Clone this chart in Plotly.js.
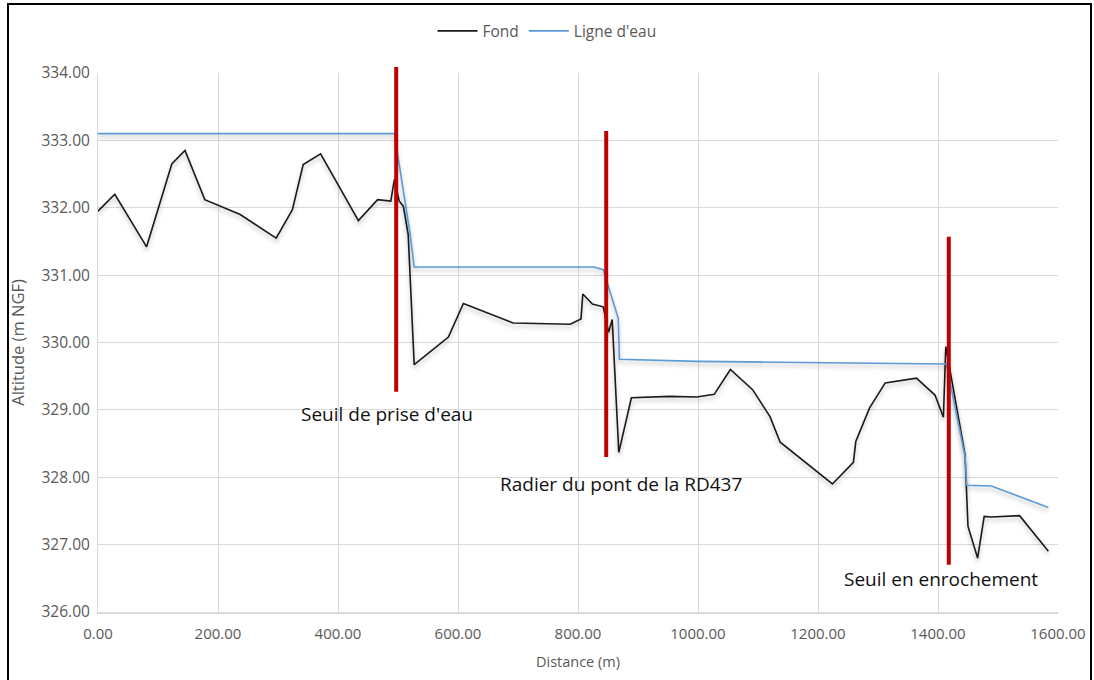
<!DOCTYPE html>
<html><head><meta charset="utf-8">
<script src="https://cdn.plot.ly/plotly-3.0.1.min.js"></script>
<style>
html,body{margin:0;padding:0;background:#fff;overflow:hidden}
#chart{width:1094px;height:680px}
#frame{position:absolute;left:7px;top:3px;width:1081px;height:720px;border:2px solid #000;pointer-events:none}
.scatterlayer .trace path.js-line{filter:drop-shadow(0px 3px 2px rgba(0,0,0,0.28))}
</style></head>
<body><div id="chart"></div><div id="frame"></div>
<script>
// Fond (river bed)
const fondDist = [0,28,81,123,145,178,237,297,324,342,371,434,466,488,494,502,509,517,527,584,609,692,787,805,808,824,842,851,857,868,889,953,998,1027,1054,1091,1120,1137,1224,1259,1263,1286,1312,1364,1395,1409,1413,1445,1450,1466,1477,1489,1536,1584];
const fondAlt  = [331.95,332.20,331.42,332.65,332.85,332.12,331.90,331.55,331.97,332.64,332.80,331.81,332.12,332.10,332.42,332.10,332.02,331.60,329.67,330.08,330.58,330.29,330.27,330.35,330.72,330.57,330.53,330.15,330.34,328.37,329.18,329.20,329.19,329.23,329.60,329.30,328.90,328.52,327.90,328.22,328.53,329.03,329.40,329.47,329.22,328.89,329.94,328.34,327.27,326.80,327.42,327.41,327.43,326.90];
// Ligne d'eau (water line)
const eauDist = [0,494,520,527,826,842,867,869,998,1203,1414,1445,1448,1489,1584];
const eauAlt  = [333.10,333.10,331.62,331.12,331.12,331.08,330.36,329.75,329.72,329.70,329.68,328.31,327.88,327.87,327.55];
// Structures (red markers) and their labels
const structX     = [497, 847, 1418];
const structTop   = [334.09, 333.14, 331.57];
const structBot   = [329.27, 328.30, 326.70];
const structNames = ["Seuil de prise d'eau", "Radier du pont de la RD437", "Seuil en enrochement"];
const labelX      = [482, 872, 1405];
const labelY      = [328.94, 327.90, 326.49];

const yRange = [326, 334];
const font = "Open Sans, Noto Sans, sans-serif";
const grey = "#595959";
const toPaper = v => (v - yRange[0]) / (yRange[1] - yRange[0]);

const traces = [
  {x: fondDist, y: fondAlt, name: "Fond", mode: "lines", type: "scatter",
   line: {color: "#1a1a1a", width: 1.6}},
  {x: eauDist, y: eauAlt, name: "Ligne d'eau", mode: "lines", type: "scatter",
   line: {color: "#5b9bd5", width: 1.6}}
];

const shapes = structX.map((x, i) => ({
  type: "line", xref: "x", yref: "paper", x0: x, x1: x,
  y0: toPaper(structBot[i]), y1: toPaper(structTop[i]),
  line: {color: "#c00000", width: 4}, layer: "above"
}));
const annotations = structNames.map((t, i) => ({
  text: t, x: labelX[i], y: labelY[i], xref: "x", yref: "y", showarrow: false,
  font: {family: font, size: 19, color: "#111"}
}));

const layout = {
  width: 1094, height: 680,
  margin: {l: 98, r: 36, t: 73, b: 68, autoexpand: false},
  paper_bgcolor: "#fff", plot_bgcolor: "#fff",
  font: {family: font, color: grey, size: 15},
  showlegend: true,
  legend: {orientation: "h", x: 0.5, xanchor: "center", xref: "container",
           y: 0.954, yanchor: "middle", yref: "container", itemwidth: 40,
           font: {family: font, size: 15.5, color: grey}},
  xaxis: {range: [0, 1600], dtick: 200, tick0: 0, tickformat: ".2f",
          showgrid: true, gridcolor: "#d9d9d9", gridwidth: 1,
          showline: true, linecolor: "#d9d9d9", linewidth: 1.5, mirror: false,
          zeroline: false, ticks: "", ticklen: 0, ticklabelstandoff: 7,
          tickfont: {family: font, size: 15, color: grey},
          title: {text: "Distance (m)", font: {family: font, size: 14.5, color: grey}, standoff: 15}},
  yaxis: {range: yRange, dtick: 1, tick0: 326, tickformat: ".2f",
          showgrid: true, gridcolor: "#d9d9d9", gridwidth: 1,
          showline: true, linecolor: "#d9d9d9", linewidth: 1,
          zeroline: false, ticks: "", ticklen: 0, ticklabelstandoff: 4,
          tickfont: {family: font, size: 15.5, color: grey},
          title: {text: "Altitude (m NGF)", font: {family: font, size: 16.5, color: grey}, standoff: 12}},
  shapes: shapes,
  annotations: annotations
};

Plotly.newPlot("chart", traces, layout, {displayModeBar: false, staticPlot: true});
</script></body></html>
